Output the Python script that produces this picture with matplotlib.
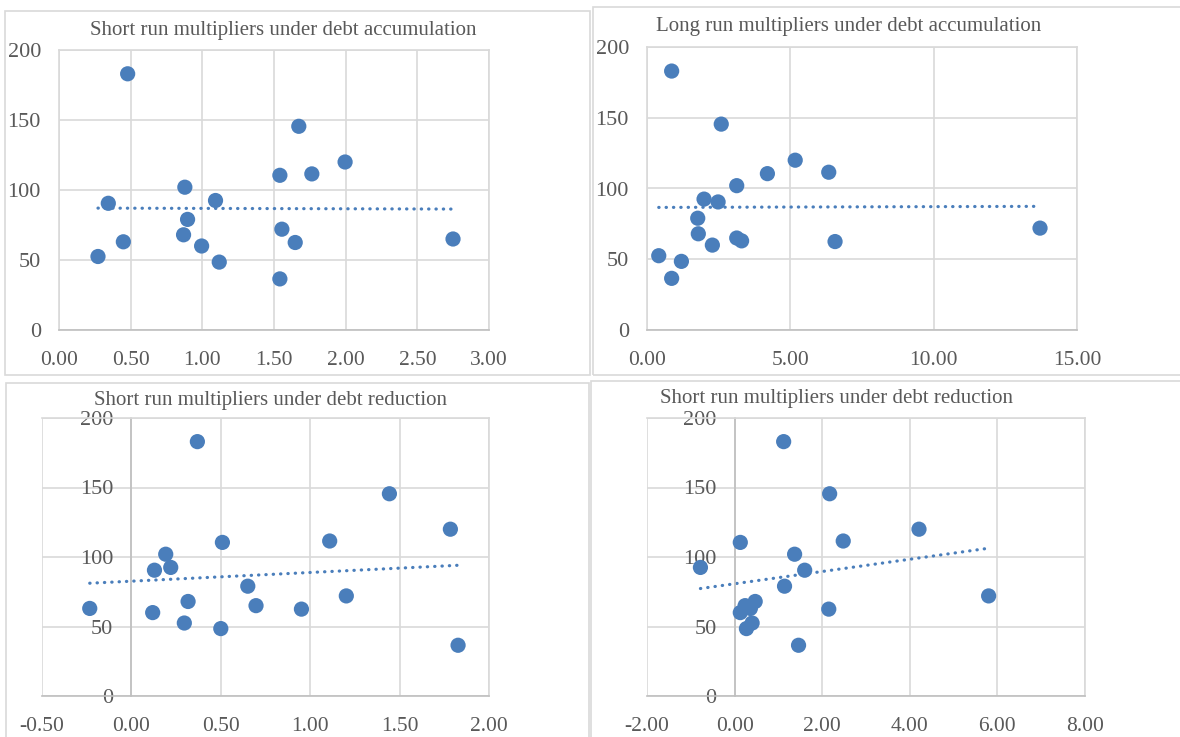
import numpy as np
import matplotlib
matplotlib.use("Agg")
import matplotlib.pyplot as plt
from matplotlib.patches import Rectangle
from matplotlib.ticker import FormatStrFormatter

# shared vertical values (same order in every panel)
y_vals = [183, 145.5, 120, 111.5, 110.5, 102, 92.5, 90.5, 79, 72,
          68, 65, 63, 62.5, 60, 52.5, 48.5, 36.5]

x_short_acc = [0.479, 1.673, 1.996, 1.764, 1.541, 0.878, 1.092, 0.344, 0.897, 1.555,
               0.869, 2.749, 0.449, 1.648, 0.995, 0.272, 1.118, 1.541]
x_long_acc = [0.86, 2.59, 5.17, 6.34, 4.20, 3.13, 1.99, 2.48, 1.77, 13.71,
              1.79, 3.13, 3.30, 6.56, 2.28, 0.41, 1.20, 0.86]
x_short_red = [0.369, 1.443, 1.784, 1.109, 0.509, 0.192, 0.220, 0.129, 0.651, 1.202,
               0.317, 0.697, -0.233, 0.951, 0.119, 0.296, 0.500, 1.827]
x_short_red2 = [1.12, 2.17, 4.21, 2.48, 0.13, 1.37, -0.78, 1.60, 1.14, 5.80,
                0.47, 0.24, 0.36, 2.15, 0.13, 0.40, 0.27, 1.46]

titles = ["Short run multipliers under debt accumulation",
          "Long run multipliers under debt accumulation",
          "Short run multipliers under debt reduction",
          "Short run multipliers under debt reduction"]

W, H = 1180, 737
BLUE = "#4a7ebb"
TXT = "#595959"
GRID = "#d9d9d9"
AXIS = "#bfbfbf"

plt.rcParams["font.family"] = ["Liberation Serif", "DejaVu Serif"]

fig = plt.figure(figsize=(W / 100, H / 100), dpi=100)


def box(l, t, r, b):
    # pixel box -> figure fraction [left, bottom, width, height]
    return [l / W, 1 - b / H, (r - l) / W, (b - t) / H]


# panel frames
for l, t, r, b in [(5, 11, 590, 375), (593, 7, 1185, 375),
                   (6, 383, 589, 745), (591, 381, 1185, 745)]:
    fig.patches.append(Rectangle((l / W, 1 - b / H), (r - l) / W, (b - t) / H,
                                 transform=fig.transFigure, fill=False,
                                 edgecolor=GRID, linewidth=1.2))

panels = [
    dict(x=x_short_acc, pos=(59, 50, 489, 330), xlim=(0, 3), step=0.5, yaxis_at=None,
         title_xy=(283, 31)),
    dict(x=x_long_acc, pos=(647, 47, 1077, 330), xlim=(0, 15), step=5, yaxis_at=None,
         title_xy=(849, 27)),
    dict(x=x_short_red, pos=(42, 418, 489, 696), xlim=(-0.5, 2), step=0.5, yaxis_at=0,
         title_xy=(270, 400)),
    dict(x=x_short_red2, pos=(647, 418, 1085, 696), xlim=(-2, 8), step=2, yaxis_at=0,
         title_xy=(836, 399)),
]

for p, title in zip(panels, titles):
    ax = fig.add_axes(box(*p["pos"]))
    x = np.array(p["x"])
    y = np.array(y_vals)
    ax.scatter(x, y, s=120, color=BLUE, edgecolors="none", zorder=3)

    # linear trend line over the data range
    k, c = np.polyfit(x, y, 1)
    xs = np.array([x.min(), x.max()])
    ax.plot(xs, k * xs + c, color=BLUE, linewidth=2.3,
            linestyle=(0, (0.1, 2.2)), dash_capstyle="round", zorder=2)

    ax.set_xlim(*p["xlim"])
    ax.set_ylim(0, 200)
    ax.set_xticks(np.arange(p["xlim"][0], p["xlim"][1] + 1e-9, p["step"]))
    ax.set_yticks(np.arange(0, 201, 50))
    ax.xaxis.set_major_formatter(FormatStrFormatter("%.2f"))
    ax.grid(True, color=GRID, linewidth=1.2, zorder=0)
    ax.set_axisbelow(True)

    for s in ["top", "right", "left"]:
        ax.spines[s].set_color(GRID)
        ax.spines[s].set_linewidth(1.2)
    ax.spines["bottom"].set_color(AXIS)
    ax.spines["bottom"].set_linewidth(1.2)
    if p["yaxis_at"] is not None:
        ax.spines["left"].set_position(("data", p["yaxis_at"]))
        ax.spines["left"].set_color(AXIS)

    ax.tick_params(axis="both", length=0, labelcolor=TXT)
    ax.tick_params(axis="x", pad=15, labelsize=15.5)
    ax.tick_params(axis="y", pad=13, labelsize=16)

    tx, ty = p["title_xy"]
    fig.text(tx / W, 1 - ty / H, title, ha="center", va="center",
             fontsize=15, color=TXT)

fig.savefig("out.png", dpi=100, facecolor="white")
